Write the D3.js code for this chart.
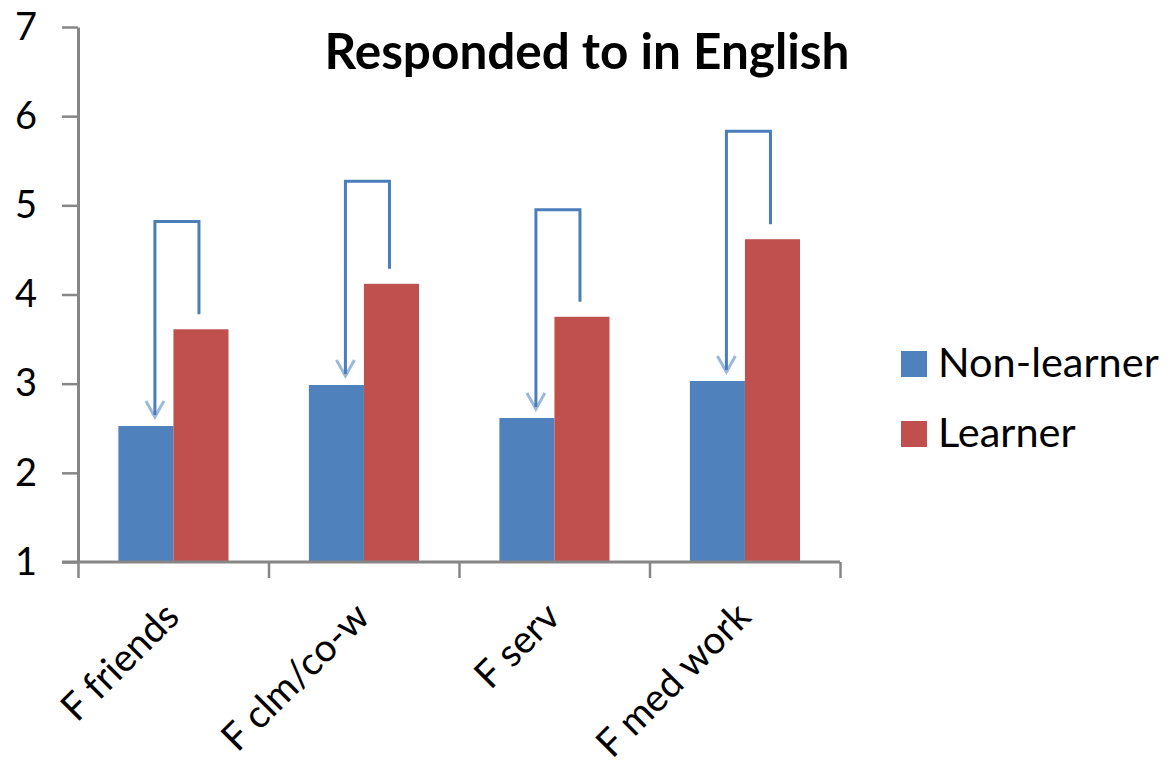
<!DOCTYPE html>
<html>
<head>
<meta charset="utf-8">
<script src="https://cdn.jsdelivr.net/npm/d3@7"></script>
<style>
  html, body { margin: 0; padding: 0; background: #fff; }
  svg { display: block; }
  text { font-family: Lato, "Liberation Sans", sans-serif; fill: #000; }
</style>
</head>
<body>
<svg id="chart" width="1174" height="772"></svg>
<script>
// ---- data ----
const categories = ["F friends", "F clm/co-w", "F serv", "F med work"];
const series = ["Non-learner", "Learner"];
const nonLearner = [2.525, 2.985, 2.615, 3.03];
const learner = [3.61, 4.12, 3.75, 4.62];
const bracketTop = [4.82, 5.27, 4.95, 5.83];
const yTicks = [1, 2, 3, 4, 5, 6, 7];
const title = "Responded to in English";
const colors = ["#4F81BD", "#C0504D"];

const svg = d3.select("#chart");
const W = 1174, H = 772;
const plot = { left: 78, right: 840, top: 27, bottom: 562 };

const y = d3.scaleLinear().domain([1, 7]).range([plot.bottom, plot.top]);
const x = d3.scaleBand().domain(categories).range([plot.left, plot.right]).padding(0);
const bw = x.bandwidth();
const xs = d3.scaleBand().domain(series).range([bw * 0.212, bw * 0.79]).padding(0);
const xEdge = d3.scaleLinear().domain([0, categories.length]).range([plot.left, plot.right]);

const axisColor = "#868686";

// y axis
const yAxis = svg.append("g")
  .attr("transform", `translate(${plot.left},0)`)
  .call(d3.axisLeft(y).tickValues(yTicks).tickFormat(d3.format("d")).tickSize(16).tickSizeOuter(0).tickPadding(25));
yAxis.select(".domain").attr("stroke", axisColor).attr("stroke-width", 3);
yAxis.selectAll(".tick line").attr("stroke", axisColor).attr("stroke-width", 2.5);
yAxis.selectAll(".tick text").attr("font-size", 38).attr("fill", "#000")
  .style("font-family", "Lato, 'Liberation Sans', sans-serif");

// bars
const rows = categories.map((c, i) => ({ c, vals: [nonLearner[i], learner[i]] }));
const groups = svg.append("g").selectAll("g").data(rows).join("g")
  .attr("transform", d => `translate(${x(d.c)},0)`);
groups.selectAll("rect").data(d => d.vals.map((v, j) => ({ s: series[j], v, j }))).join("rect")
  .attr("x", d => xs(d.s))
  .attr("width", xs.bandwidth())
  .attr("y", d => y(d.v))
  .attr("height", d => y(1) - y(d.v))
  .attr("fill", d => colors[d.j]);

// x axis (drawn after bars)
const xAxis = svg.append("g")
  .attr("transform", `translate(0,${plot.bottom})`)
  .call(d3.axisBottom(xEdge).tickValues(d3.range(categories.length + 1)).tickFormat("").tickSize(16).tickSizeOuter(0));
xAxis.select(".domain").attr("stroke", axisColor).attr("stroke-width", 3)
  .attr("d", `M${plot.left - 16},0H${plot.right}`);
xAxis.selectAll(".tick line").attr("stroke", axisColor).attr("stroke-width", 2.5);

// category labels
svg.append("g").selectAll("text").data(categories).join("text")
  .attr("transform", d => `translate(${x(d) + bw / 2 + 8},619) rotate(-45)`)
  .attr("text-anchor", "end")
  .attr("font-size", 38.5)
  .attr("fill", "#111")
  .text(d => d);

// brackets (annotation arrows)
const lineColor = "#4A7EBB";
const ann = svg.append("g");
categories.forEach((c, i) => {
  const xl = x(c) + xs(series[0]) + xs.bandwidth() / 2 + 9;
  const xr = x(c) + xs(series[1]) + xs.bandwidth() / 2 - 2;
  const yt = y(bracketTop[i]);
  const yr = y(learner[i]) - 15;
  const ytip = y(nonLearner[i]) - 9;
  ann.append("path")
    .attr("d", `M${xr},${yr}V${yt}H${xl}V${ytip - 2}`)
    .attr("fill", "none").attr("stroke", lineColor).attr("stroke-width", 3);
  ann.append("path")
    .attr("d", `M${xl - 9},${ytip - 16}L${xl},${ytip}L${xl + 9},${ytip - 16}`)
    .attr("fill", "none").attr("stroke", lineColor).attr("stroke-width", 3)
    .attr("stroke-opacity", 0.55).attr("stroke-linejoin", "miter");
});

// title
const t = svg.append("text")
  .attr("x", W / 2).attr("y", 69)
  .attr("text-anchor", "middle")
  .attr("font-weight", "bold")
  .attr("font-size", 44)
  .text(title);
(function fit(sel, target) {
  const len = sel.node().getComputedTextLength();
  const fs = parseFloat(sel.attr("font-size"));
  sel.attr("font-size", fs * target / len);
})(t, 525);

// legend
const legend = svg.append("g").attr("transform", "translate(901,0)");
const legY = [364, 434];
series.forEach((s, j) => {
  legend.append("rect").attr("x", 0).attr("y", legY[j] - 13).attr("width", 26).attr("height", 26).attr("fill", colors[j]);
  legend.append("text").attr("x", 37).attr("y", legY[j] + 13).attr("font-size", 41.5).text(s);
});
</script>
</body>
</html>
